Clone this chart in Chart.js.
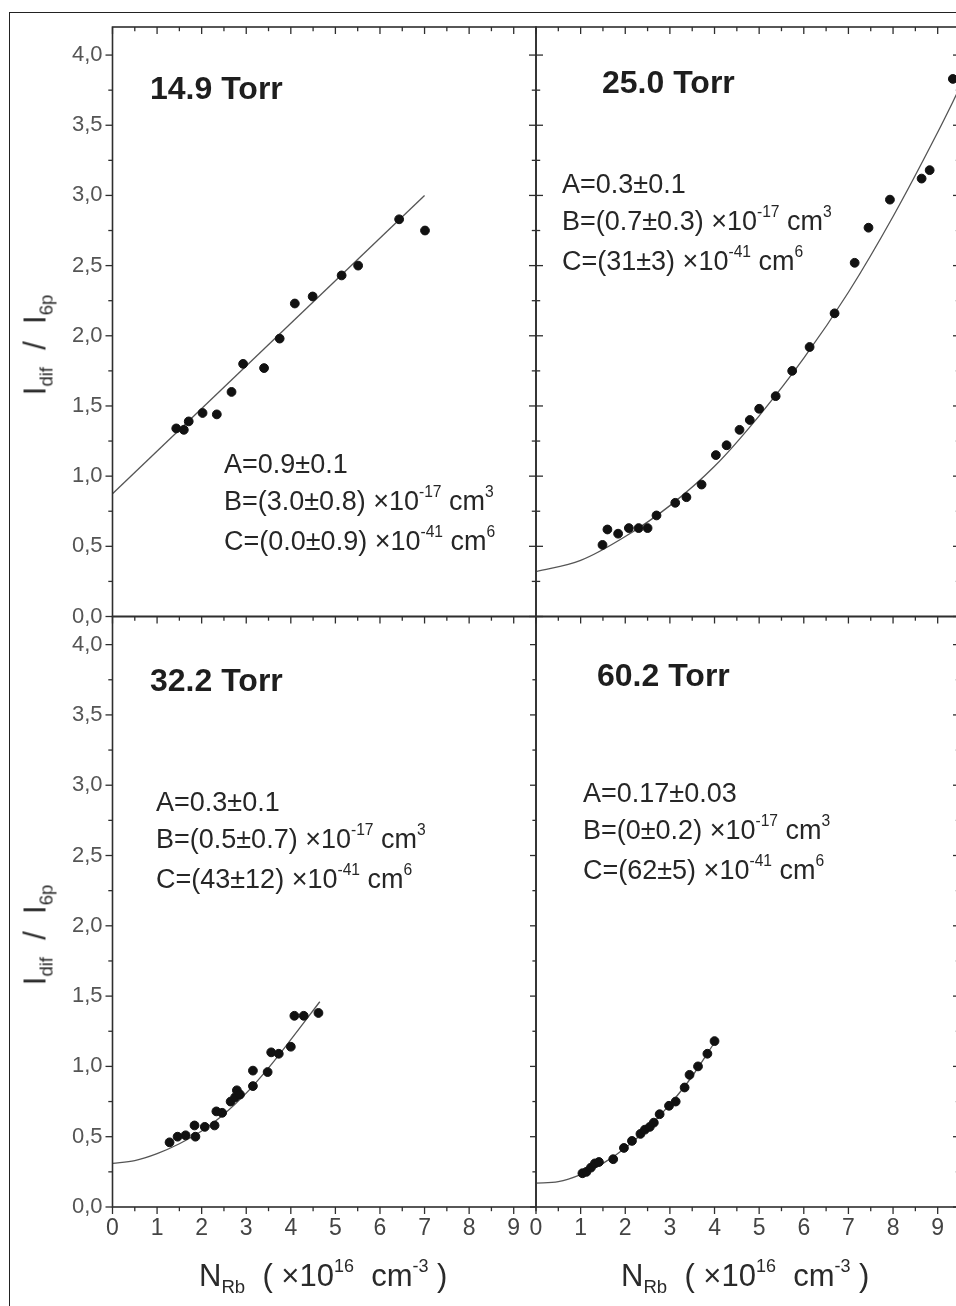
<!DOCTYPE html>
<html>
<head>
<meta charset="utf-8">
<script src="https://cdn.jsdelivr.net/npm/chart.js@4.4.1/dist/chart.umd.min.js"></script>
<style>
html, body { margin: 0; padding: 0; background: #fff; overflow: hidden; }
#pagina { position: relative; width: 966px; height: 1306px; font-family: "Liberation Sans", Arial, sans-serif; }
canvas { position: absolute; left: 0; top: 0; }
#marco { position: absolute; left: 9px; top: 12px; width: 1000px; height: 1400px; border: 1.5px solid #222; }
.txt { position: absolute; white-space: nowrap; line-height: 1; color: #262626; }
.tit { font-weight: bold; font-size: 32px; color: #1e1e1e; }
.par { font-size: 27px; line-height: 37px; }
.tx { font-size: 31px; color: #2a2a2a; }
.ty { font-size: 31px; color: #2a2a2a; transform: translate(-50%, -50%) rotate(-90deg); }
.sup { font-size: 58%; position: relative; top: -0.8em; }
.sub { font-size: 60%; position: relative; top: 0.35em; }
</style>
</head>
<body>
<div id="pagina">
  <div id="marco"></div>
  <canvas id="c149" width="966" height="1306"></canvas>
  <canvas id="c250" width="966" height="1306"></canvas>
  <canvas id="c322" width="966" height="1306"></canvas>
  <canvas id="c602" width="966" height="1306"></canvas>

  <div class="txt tit" style="left:150px; top:72px">14.9 Torr</div>
  <div class="txt tit" style="left:602px; top:66px">25.0 Torr</div>
  <div class="txt tit" style="left:150px; top:664px">32.2 Torr</div>
  <div class="txt tit" style="left:597px; top:659px">60.2 Torr</div>

  <div class="txt par" style="left:224px; top:446px">A=0.9±0.1<br>B=(3.0±0.8) ×10<span class="sup">-17</span>&nbsp;cm<span class="sup">3</span><br>C=(0.0±0.9) ×10<span class="sup">-41</span>&nbsp;cm<span class="sup">6</span></div>
  <div class="txt par" style="left:562px; top:166px">A=0.3±0.1<br>B=(0.7±0.3) ×10<span class="sup">-17</span>&nbsp;cm<span class="sup">3</span><br>C=(31±3) ×10<span class="sup">-41</span>&nbsp;cm<span class="sup">6</span></div>
  <div class="txt par" style="left:156px; top:784px">A=0.3±0.1<br>B=(0.5±0.7) ×10<span class="sup">-17</span>&nbsp;cm<span class="sup">3</span><br>C=(43±12) ×10<span class="sup">-41</span>&nbsp;cm<span class="sup">6</span></div>
  <div class="txt par" style="left:583px; top:775px">A=0.17±0.03<br>B=(0±0.2) ×10<span class="sup">-17</span>&nbsp;cm<span class="sup">3</span><br>C=(62±5) ×10<span class="sup">-41</span>&nbsp;cm<span class="sup">6</span></div>

  <div class="txt ty" style="left:35px; top:345px">I<span class="sub">dif</span>&nbsp; /&nbsp; I<span class="sub">6p</span></div>
  <div class="txt ty" style="left:35px; top:935px">I<span class="sub">dif</span>&nbsp; /&nbsp; I<span class="sub">6p</span></div>

  <div class="txt tx" style="left:199px; top:1260px">N<span class="sub">Rb</span>&nbsp; ( ×10<span class="sup">16</span>&nbsp; cm<span class="sup">-3</span> )</div>
  <div class="txt tx" style="left:621px; top:1260px">N<span class="sub">Rb</span>&nbsp; ( ×10<span class="sup">16</span>&nbsp; cm<span class="sup">-3</span> )</div>
</div>

<script>
// ejes: marcas y etiquetas
const xMayor = [0, 1, 2, 3, 4, 5, 6, 7, 8, 9];
const xMenor = [0.5, 1.5, 2.5, 3.5, 4.5, 5.5, 6.5, 7.5, 8.5, 9.5];
const xEtiquetas = ['0', '1', '2', '3', '4', '5', '6', '7', '8', '9'];
const yMayor = [0, 0.5, 1, 1.5, 2, 2.5, 3, 3.5, 4];
const yMenor = [0.25, 0.75, 1.25, 1.75, 2.25, 2.75, 3.25, 3.75];
const yEtiquetas = ['0,0', '0,5', '1,0', '1,5', '2,0', '2,5', '3,0', '3,5', '4,0'];

// 14.9 Torr
const x149 = [1.43, 1.60, 1.71, 2.02, 2.34, 2.67, 2.93, 3.40, 3.75, 4.09, 4.49, 5.14, 5.51, 6.43, 7.01];
const y149 = [1.34, 1.33, 1.39, 1.45, 1.44, 1.60, 1.80, 1.77, 1.98, 2.23, 2.28, 2.43, 2.50, 2.83, 2.75];
const ajusteX149 = [0, 7.0];
const ajusteY149 = [0.875, 3.0];

// 25.0 Torr
const x250 = [1.49, 1.60, 1.84, 2.08, 2.30, 2.50, 2.70, 3.12, 3.37, 3.71, 4.03, 4.27, 4.56, 4.79, 5.00, 5.37, 5.74, 6.13, 6.69, 7.14, 7.45, 7.93, 8.64, 8.82, 9.34];
const y250 = [0.51, 0.62, 0.59, 0.63, 0.63, 0.63, 0.72, 0.81, 0.85, 0.94, 1.15, 1.22, 1.33, 1.40, 1.48, 1.57, 1.75, 1.92, 2.16, 2.52, 2.77, 2.97, 3.12, 3.18, 3.83];
const ajusteX250 = [0, 1, 2, 3, 4, 5, 6, 7, 8, 9, 9.5];
const ajusteY250 = [0.32, 0.40, 0.57, 0.79, 1.07, 1.43, 1.84, 2.31, 2.85, 3.45, 3.77];

// 32.2 Torr
const x322 = [1.28, 1.46, 1.64, 1.84, 1.86, 2.07, 2.29, 2.33, 2.46, 2.65, 2.75, 2.79, 2.86, 3.15, 3.15, 3.48, 3.56, 3.73, 4.00, 4.08, 4.29, 4.62];
const y322 = [0.46, 0.50, 0.51, 0.58, 0.50, 0.57, 0.58, 0.68, 0.67, 0.75, 0.78, 0.83, 0.80, 0.97, 0.86, 0.96, 1.10, 1.09, 1.14, 1.36, 1.36, 1.38];
const ajusteX322 = [0, 0.5, 1, 1.5, 2, 2.5, 3, 3.5, 4, 4.65];
const ajusteY322 = [0.31, 0.33, 0.38, 0.45, 0.54, 0.66, 0.81, 0.99, 1.19, 1.46];

// 60.2 Torr
const x602 = [1.04, 1.13, 1.23, 1.32, 1.41, 1.73, 1.97, 2.15, 2.34, 2.44, 2.55, 2.64, 2.77, 2.98, 3.13, 3.33, 3.44, 3.63, 3.84, 4.00];
const y602 = [0.24, 0.25, 0.28, 0.31, 0.32, 0.34, 0.42, 0.47, 0.52, 0.55, 0.57, 0.60, 0.66, 0.72, 0.75, 0.85, 0.94, 1.00, 1.09, 1.18];
const ajusteX602 = [0, 0.5, 1, 1.5, 2, 2.5, 3, 3.5, 4];
const ajusteY602 = [0.17, 0.18, 0.23, 0.31, 0.42, 0.56, 0.73, 0.93, 1.17];

function puntos(xs, ys) {
    return xs.map((v, i) => ({ x: v, y: ys[i] }));
}

// dibuja el marco del panel y las marcas (mayores y menores), hacia fuera o hacia dentro
const marcoEjes = {
    id: 'marcoEjes',
    afterDatasetsDraw(chart, args, opts) {
        const { ctx, chartArea: a } = chart;
        const sx = chart.scales.x, sy = chart.scales.y;
        ctx.save();
        ctx.strokeStyle = '#2e2e2e';
        ctx.lineWidth = 1.6;
        ctx.strokeRect(a.left, a.top, a.right - a.left, a.bottom - a.top);
        ctx.lineWidth = 1.3;
        const linea = (x1, y1, x2, y2) => {
            ctx.beginPath(); ctx.moveTo(x1, y1); ctx.lineTo(x2, y2); ctx.stroke();
        };
        const lados = [
            ['izq', sy, a.left, -1], ['der', sy, a.right, 1],
            ['sup', sx, a.top, -1], ['inf', sx, a.bottom, 1]
        ];
        lados.forEach(([lado, escala, pos, sentido]) => {
            const [fuera, dentro] = opts[lado] || [0, 0];
            if (!fuera && !dentro) return;
            const mayores = escala === sx ? xMayor : yMayor;
            const menores = escala === sx ? xMenor : yMenor;
            [[mayores, 1], [menores, 0.6]].forEach(([vals, f]) => {
                vals.forEach(v => {
                    const p = escala.getPixelForValue(v);
                    const p1 = pos + sentido * fuera * f;
                    const p2 = pos - sentido * dentro * f;
                    if (escala === sx) linea(p, p1, p, p2);
                    else linea(p1, p, p2, p);
                });
            });
        });
        ctx.restore();
    }
};

function crearPanel(id, cfg) {
    return new Chart(document.getElementById(id), {
        type: 'scatter',
        data: {
            datasets: [{
                data: puntos(cfg.px, cfg.py),
                backgroundColor: '#111',
                borderColor: '#111',
                pointRadius: 4.4,
                pointHoverRadius: 4.4,
                showLine: false
            }, {
                data: puntos(cfg.ax, cfg.ay),
                showLine: true,
                borderColor: '#555',
                borderWidth: 1.3,
                pointRadius: 0,
                cubicInterpolationMode: 'monotone',
                fill: false
            }]
        },
        options: {
            responsive: false,
            animation: false,
            devicePixelRatio: 1,
            layout: { padding: cfg.padding },
            plugins: {
                legend: { display: false },
                tooltip: { enabled: false },
                marcoEjes: cfg.marcas
            },
            scales: {
                x: {
                    type: 'linear', min: 0, max: 9.5,
                    grid: { display: false, drawTicks: false },
                    border: { display: false },
                    afterBuildTicks: s => { s.ticks = xMayor.map(v => ({ value: v })); },
                    ticks: {
                        display: cfg.etiqX,
                        padding: 8,
                        color: '#444',
                        font: { family: '"Liberation Sans", Arial, sans-serif', size: 23 },
                        callback: (v, i) => xEtiquetas[i]
                    },
                    afterFit: s => { s.height = cfg.etiqX ? 60 : 0; }
                },
                y: {
                    type: 'linear', min: 0, max: 4.2,
                    grid: { display: false, drawTicks: false },
                    border: { display: false },
                    afterBuildTicks: s => { s.ticks = yMayor.map(v => ({ value: v })); },
                    ticks: {
                        display: cfg.etiqY,
                        padding: 10,
                        color: '#555',
                        font: { family: '"Liberation Sans", Arial, sans-serif', size: 22 },
                        callback: (v, i) => yEtiquetas[i]
                    },
                    afterFit: s => { s.width = cfg.etiqY ? 60 : 0; }
                }
            }
        },
        plugins: [marcoEjes]
    });
}

crearPanel('c149', {
    px: x149, py: y149, ax: ajusteX149, ay: ajusteY149,
    etiqX: false, etiqY: true,
    padding: { left: 52.5, right: 430, top: 27, bottom: 689.5 },
    marcas: { izq: [7, 0], sup: [0, 7], inf: [7, 0] }
});
crearPanel('c250', {
    px: x250, py: y250, ax: ajusteX250, ay: ajusteY250,
    etiqX: false, etiqY: false,
    padding: { left: 536, right: 6, top: 27, bottom: 689.5 },
    marcas: { izq: [7, 7], der: [0, 7], sup: [0, 7], inf: [7, 0] }
});
crearPanel('c322', {
    px: x322, py: y322, ax: ajusteX322, ay: ajusteY322,
    etiqX: true, etiqY: true,
    padding: { left: 52.5, right: 430, top: 616.5, bottom: 39 },
    marcas: { izq: [7, 0], inf: [7, 0] }
});
crearPanel('c602', {
    px: x602, py: y602, ax: ajusteX602, ay: ajusteY602,
    etiqX: true, etiqY: false,
    padding: { left: 536, right: 6, top: 616.5, bottom: 39 },
    marcas: { izq: [6, 0], der: [0, 7], inf: [7, 0] }
});
</script>
</body>
</html>
